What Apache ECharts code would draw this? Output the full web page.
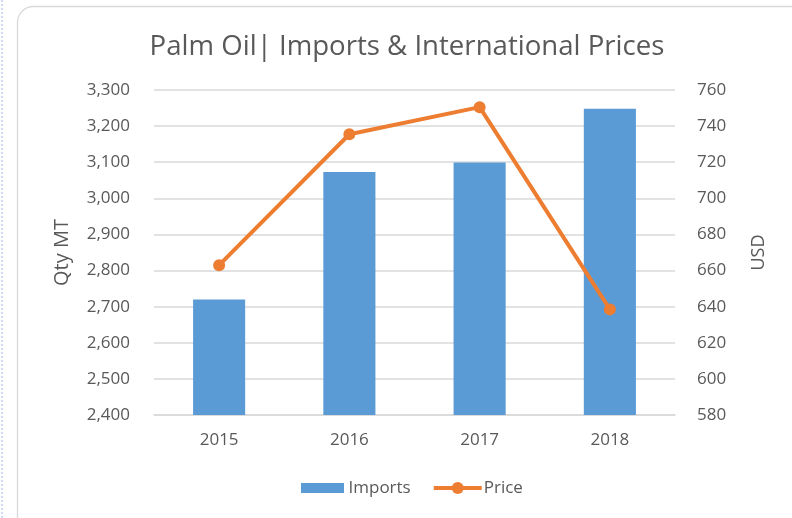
<!DOCTYPE html>
<html>
<head>
<meta charset="utf-8">
<script src="https://cdn.jsdelivr.net/npm/echarts@6/dist/echarts.min.js"></script>
<style>
html,body{margin:0;padding:0;background:#fff;}
#chart{width:792px;height:518px;}
</style>
</head>
<body>
<div id="chart"></div>
<script>
var categories = ['2015', '2016', '2017', '2018'];
var imports = [2720, 3073, 3099, 3248];
var prices = [663, 735.5, 750.5, 638.5];
var leftTicks = [2400, 3300, 100];
var rightTicks = [580, 760, 20];

var FONT = '"Open Sans", "Noto Sans", sans-serif';
var TXT = '#595959';
var chart = echarts.init(document.getElementById('chart'));
chart.setOption({
  animation: false,
  backgroundColor: '#fff',
  title: {
    text: 'Palm Oil| Imports & International Prices',
    left: 402, top: 28, textAlign: 'center',
    textStyle: {fontFamily: FONT, fontSize: 27.6, fontWeight: 'normal', color: TXT}
  },
  graphic: [
    {type: 'rect', shape: {x: 17.5, y: 6.5, width: 790, height: 530, r: 16},
     style: {fill: 'none', stroke: '#d9d9d9', lineWidth: 1.3}, z: 0, silent: true},
    {type: 'line', shape: {x1: 2, y1: 0, x2: 2, y2: 518},
     style: {stroke: '#c5cdf0', lineWidth: 1.5, lineDash: [2, 2]}, silent: true}
  ],
  legend: {
    top: 478, left: 296, padding: 0,
    itemGap: 21, itemWidth: 48, itemHeight: 15,
    textStyle: {fontFamily: FONT, fontSize: 17, color: TXT, padding: [0, 0, 0, -3]},
    data: [
      {name: 'Imports', icon: 'rect', itemStyle: {borderColor: '#fff', borderWidth: 5}},
      {name: 'Price', lineStyle: {width: 4}}
    ]
  },
  grid: {left: 154, right: 117, top: 90, bottom: 103},
  xAxis: {
    type: 'category', data: categories,
    axisLine: {lineStyle: {color: '#d9d9d9', width: 1.5}},
    axisTick: {show: false},
    axisLabel: {fontFamily: FONT, fontSize: 17, color: TXT, margin: 17}
  },
  yAxis: [
    {
      type: 'value', min: leftTicks[0], max: leftTicks[1], interval: leftTicks[2],
      name: 'Qty MT', nameLocation: 'middle', nameGap: 82,
      nameTextStyle: {fontFamily: FONT, fontSize: 20, color: TXT},
      axisLine: {show: false}, axisTick: {show: false},
      axisLabel: {fontFamily: FONT, fontSize: 17, color: TXT, margin: 24,
        formatter: function (v) { return v.toLocaleString('en-US'); }},
      splitLine: {lineStyle: {color: '#d9d9d9', width: 1.5}}
    },
    {
      type: 'value', min: rightTicks[0], max: rightTicks[1], interval: rightTicks[2],
      name: 'USD', nameLocation: 'middle', nameGap: 75, nameRotate: 90,
      nameTextStyle: {fontFamily: FONT, fontSize: 18, color: TXT},
      axisLine: {show: false}, axisTick: {show: false},
      axisLabel: {fontFamily: FONT, fontSize: 17, color: TXT, margin: 22},
      splitLine: {show: false}
    }
  ],
  series: [
    {
      name: 'Imports', type: 'bar', data: imports, yAxisIndex: 0,
      barWidth: '40%', itemStyle: {color: '#5B9BD5'}
    },
    {
      name: 'Price', type: 'line', data: prices, yAxisIndex: 1,
      symbol: 'circle', symbolSize: 12,
      lineStyle: {color: '#ED7D31', width: 4},
      itemStyle: {color: '#ED7D31'}
    }
  ]
});
</script>
</body>
</html>
